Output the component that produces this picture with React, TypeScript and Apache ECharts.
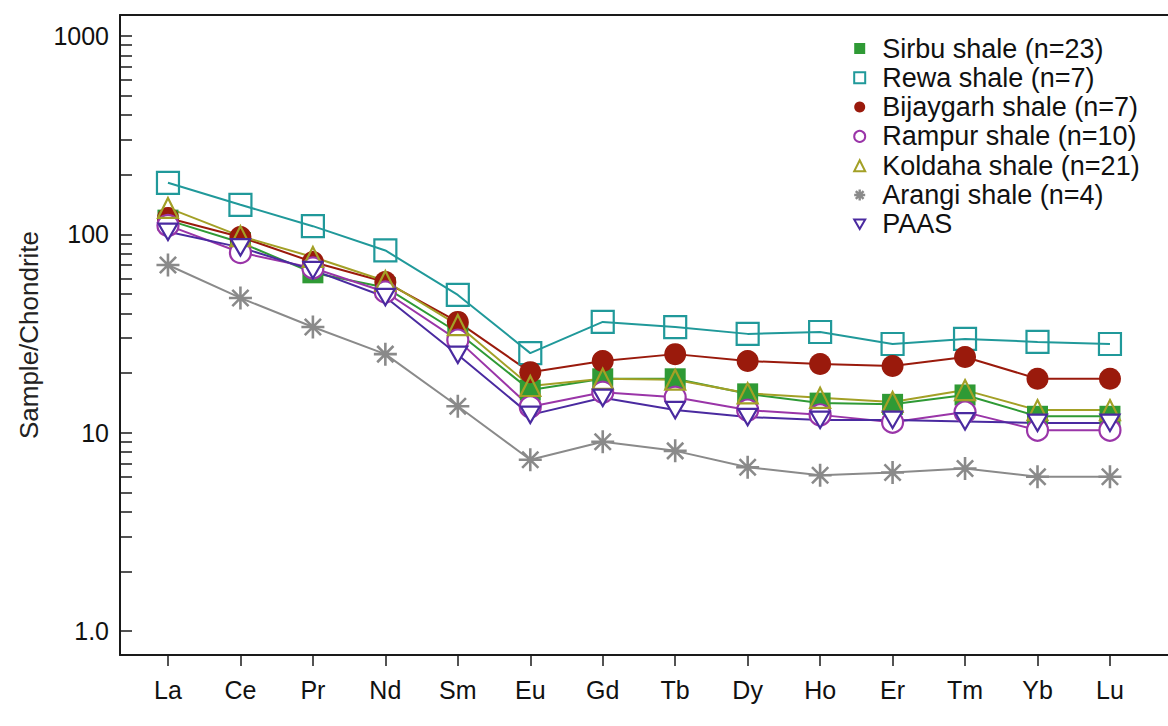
import React, { useEffect, useRef } from 'react';
import * as echarts from 'echarts';

const elements = ['La', 'Ce', 'Pr', 'Nd', 'Sm', 'Eu', 'Gd', 'Tb', 'Dy', 'Ho', 'Er', 'Tm', 'Yb', 'Lu'];

const sirbu = [118, 91, 64, 54, 32, 16.4, 18.7, 18.7, 15.7, 14.1, 13.9, 15.5, 12.1, 12.1];
const rewa = [182, 141, 110, 83, 49.5, 25.2, 36.2, 34.1, 31.5, 32.2, 28.0, 29.7, 28.7, 28.0];
const bijaygarh = [121, 97, 72.6, 57.5, 36.2, 20.2, 23.0, 24.9, 23.0, 22.2, 21.7, 24.1, 18.7, 18.7];
const rampur = [111, 81, 67.7, 51.2, 29.3, 13.5, 16.0, 15.1, 13.0, 12.3, 11.3, 12.7, 10.3, 10.3];
const koldaha = [136, 98, 76.9, 58.2, 34.9, 17.2, 18.7, 18.5, 15.8, 15.0, 14.3, 16.4, 13.0, 13.0];
const arangi = [70.1, 47.8, 34.1, 24.9, 13.6, 7.3, 9.0, 8.1, 6.7, 6.1, 6.3, 6.6, 6.0, 6.0];
const paas = [103, 86, 66, 48.3, 24.7, 12.3, 15.0, 13.0, 12.0, 11.6, 11.6, 11.4, 11.2, 11.2];

const yTickValues = [1, 10, 100, 1000];
const yTickLabels = ['1.0', '10', '100', '1000'];
const yMin = 0.757;
const yMax = 1277;
const xMin = -0.662;
const xMax = 14.353;

const FONT = '"Liberation Sans", Arial, sans-serif';
const ASTERISK = 'path://M10 0V20M0 10H20M2.93 2.93L17.07 17.07M2.93 17.07L17.07 2.93';
const DOWN_TRI = 'path://M0 0L20 0L10 17.3Z';

const C = {
  sirbu: '#2f9a35',
  rewa: '#20999a',
  bijay: '#9a1a0c',
  rampur: '#9a35a8',
  koldaha: '#a3a026',
  arangi: '#8a8a8a',
  paas: '#4a2aa0',
};

export default function App() {
  const ref = useRef<HTMLDivElement>(null);
  useEffect(() => {
    if (!ref.current) return;
    const chart = echarts.init(ref.current, undefined, { renderer: 'svg' });

    const minorVals: number[] = [];
    for (const d of [1, 10, 100]) for (let k = 1; k <= 9; k++) minorVals.push(Math.log10(k * d));
    minorVals.push(3);

    const mk = (name: string, vals: number[], color: string, symbol: string, size: number, fill: string, bw: number) => ({
      type: 'line',
      name,
      xAxisIndex: 0,
      yAxisIndex: 0,
      data: vals.map((v, i) => [i, v]),
      symbol,
      symbolSize: size,
      symbolKeepAspect: true,
      lineStyle: { color, width: 2 },
      itemStyle: { color: fill, borderColor: color, borderWidth: bw },
      emphasis: { disabled: true },
      silent: true,
    });

    const series = [
      mk('Sirbu shale (n=23)', sirbu, C.sirbu, 'rect', 21, C.sirbu, 0),
      mk('Rewa shale (n=7)', rewa, C.rewa, 'rect', 22, 'rgba(0,0,0,0)', 2.2),
      mk('Bijaygarh shale (n=7)', bijaygarh, C.bijay, 'circle', 22, C.bijay, 0),
      mk('Rampur shale (n=10)', rampur, C.rampur, 'circle', 21, '#ffffff', 2.2),
      mk('Koldaha shale (n=21)', koldaha, C.koldaha, 'triangle', 20, 'rgba(0,0,0,0)', 2.2),
      mk('Arangi shale (n=4)', arangi, C.arangi, ASTERISK, 23, C.arangi, 2.6),
      mk('PAAS', paas, C.paas, DOWN_TRI, 19, '#ffffff', 2.2),
    ];

    const legendData = [
      { name: 'Sirbu shale (n=23)', icon: 'rect', itemStyle: { color: C.sirbu, borderWidth: 0 } },
      { name: 'Rewa shale (n=7)', icon: 'rect', itemStyle: { color: '#ffffff', borderColor: C.rewa, borderWidth: 2 } },
      { name: 'Bijaygarh shale (n=7)', icon: 'circle', itemStyle: { color: C.bijay, borderWidth: 0 } },
      { name: 'Rampur shale (n=10)', icon: 'circle', itemStyle: { color: '#ffffff', borderColor: C.rampur, borderWidth: 2 } },
      { name: 'Koldaha shale (n=21)', icon: 'triangle', itemStyle: { color: '#ffffff', borderColor: C.koldaha, borderWidth: 2 } },
      { name: 'Arangi shale (n=4)', icon: ASTERISK, itemStyle: { color: C.arangi, borderColor: C.arangi, borderWidth: 2.4 } },
      { name: 'PAAS', icon: DOWN_TRI, itemStyle: { color: '#ffffff', borderColor: C.paas, borderWidth: 2 } },
    ];

    const frameLine = { show: true, onZero: false, lineStyle: { color: '#1a1a1a', width: 2 } };

    chart.setOption({
      animation: false,
      backgroundColor: '#ffffff',
      grid: {
        left: 120,
        top: 15,
        right: -40,
        height: 640,
        show: false,
        containLabel: false,
        outerBoundsMode: 'none',
      },
      graphic: [
        {
          type: 'rect',
          right: 0,
          top: 17,
          z: 100,
          silent: true,
          shape: { width: 9, height: 636 },
          style: { fill: '#ffffff' },
        },
        {
          type: 'rect',
          right: 0,
          top: 657,
          z: 100,
          silent: true,
          shape: { width: 9, height: 69 },
          style: { fill: '#ffffff' },
        },
      ],
      legend: {
        orient: 'vertical',
        left: 848,
        top: 30,
        itemWidth: 11,
        itemHeight: 11,
        itemGap: 2.3,
        selectedMode: false,
        textStyle: { fontSize: 27, fontFamily: FONT, color: '#111', lineHeight: 26, padding: [0, 0, 0, 12] },
        data: legendData,
      },
      xAxis: [
        {
          type: 'value',
          min: xMin,
          max: xMax,
          position: 'bottom',
          axisLine: frameLine,
          axisTick: { show: true, inside: false, length: 11, customValues: elements.map((_, i) => i), lineStyle: { color: '#1a1a1a', width: 1.5 } },
          axisLabel: {
            show: true,
            customValues: elements.map((_, i) => i),
            formatter: (v: number) => elements[Math.round(v)] ?? '',
            fontSize: 25,
            fontFamily: FONT,
            color: '#111',
            margin: 22,
          },
          splitLine: { show: false },
        },
        {
          type: 'value',
          min: xMin,
          max: xMax,
          position: 'top',
          axisLine: frameLine,
          axisTick: { show: false },
          axisLabel: { show: false },
          splitLine: { show: false },
        },
      ],
      yAxis: [
        {
          type: 'log',
          min: yMin,
          max: yMax,
          position: 'left',
          axisLine: { show: false },
          axisTick: { show: false },
          axisLabel: { show: false },
          splitLine: { show: false },
        },
        {
          type: 'value',
          min: Math.log10(yMin),
          max: Math.log10(yMax),
          position: 'left',
          name: 'Sample/Chondrite',
          nameLocation: 'middle',
          nameRotate: 90,
          nameGap: 78,
          nameTextStyle: { fontSize: 26, fontFamily: FONT, color: '#222' },
          axisLine: frameLine,
          axisTick: { show: true, inside: true, length: 12, customValues: minorVals, lineStyle: { color: '#1a1a1a', width: 1.5 } },
          axisLabel: {
            show: true,
            customValues: yTickValues.map((v) => Math.log10(v)),
            formatter: (v: number) => {
              const idx = yTickValues.findIndex((t) => Math.abs(Math.log10(t) - v) < 1e-6);
              return idx >= 0 ? yTickLabels[idx] : '';
            },
            fontSize: 25,
            fontFamily: FONT,
            color: '#111',
            margin: 11,
          },
          splitLine: { show: false },
        },
      ],
      series,
    });
    return () => chart.dispose();
  }, []);
  return <div ref={ref} style={{ position: 'fixed', left: 0, top: 0, width: 1168, height: 726, background: '#fff' }} />;
}
